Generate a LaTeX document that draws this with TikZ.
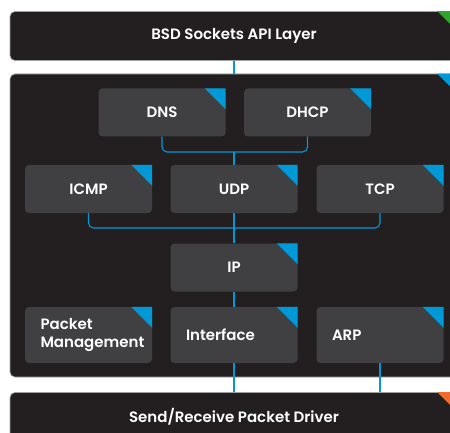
\documentclass[tikz,border=0pt]{standalone}
\usepackage{fontspec}
\setmainfont{Poppins}[BoldFont={Poppins SemiBold}]
\usetikzlibrary{calc}
\definecolor{bigfill}{HTML}{231F20}
\definecolor{smallfill}{HTML}{404042}
\definecolor{linkblue}{HTML}{0099D8}
\definecolor{cgreen}{HTML}{2DA62D}
\definecolor{corange}{HTML}{F26A2C}
\definecolor{edgegray}{HTML}{A0A0A0}
\tikzset{
  layer/.style={draw=edgegray, line width=0.6pt, fill=bigfill, rounded corners=5pt,
    minimum width=448pt, text=white, font=\fontsize{15}{17}\selectfont\bfseries, inner sep=0pt},
  module/.style={fill=smallfill, rounded corners=4pt, minimum width=127pt, minimum height=48pt,
    text=white, font=\fontsize{15}{17}\selectfont\bfseries, inner sep=0pt},
  lowmodule/.style={module, minimum height=56pt, text width=96pt, align=left,
    font=\fontsize{15}{18}\selectfont\bfseries},
  link/.style={draw=linkblue, line width=1.1pt, rounded corners=5pt},
}
\newcommand{\tagcorner}[3]{\fill[#2] ($(#1.north east)+(-#3,0)$) -- (#1.north east) -- ($(#1.north east)+(0,#3)$) -- cycle;}
\begin{document}
\begin{tikzpicture}[x=1pt,y=-1pt]
\useasboundingbox (0,0) rectangle (450,433);
\begin{scope}
\clip (0,0) rectangle (450,433);
\node[layer, minimum height=49pt] (bsd) at (234,36) {BSD Sockets API Layer};
\node[layer, minimum height=303pt] (stack) at (234,225.5) {};
\node[layer, minimum height=49pt] (driver) at (234,417) {Send/Receive Packet Driver};
\tagcorner{bsd}{cgreen}{21}
\tagcorner{stack}{linkblue}{21}
\tagcorner{driver}{corange}{21}

\node[module] (dns) at (162,112.5) {DNS};
\node[module] (dhcp) at (307.5,112.5) {DHCP};
\node[module] (icmp) at (88.5,189) {ICMP};
\node[module] (udp) at (234,189) {UDP};
\node[module] (tcp) at (380,189) {TCP};
\node[module] (ip) at (234,267.5) {IP};
\node[lowmodule] (pm) at (88.5,335) {Packet\\Management};
\node[lowmodule] (iface) at (234,335) {Interface};
\node[lowmodule] (arp) at (380,335) {ARP};
\foreach \n in {dns,dhcp,icmp,udp,tcp,ip,pm,iface,arp} {\tagcorner{\n}{linkblue}{21}}

\coordinate (j1) at (234,152);
\coordinate (j2) at (234,228);
\draw[link] (bsd.south) -- (stack.north);
\draw[link] (dns.south) |- (j1) -| (dhcp.south);
\draw[link] (j1) -- (udp.north);
\draw[link] (icmp.south) |- (j2) -| (tcp.south);
\draw[link] (udp.south) -- (ip.north);
\draw[link] (ip.south) -- (iface.north);
\draw[link] (iface.south) -- (driver.north);
\draw[link] (arp.south) -- (driver.north -| arp.south);
\end{scope}
\end{tikzpicture}
\end{document}
